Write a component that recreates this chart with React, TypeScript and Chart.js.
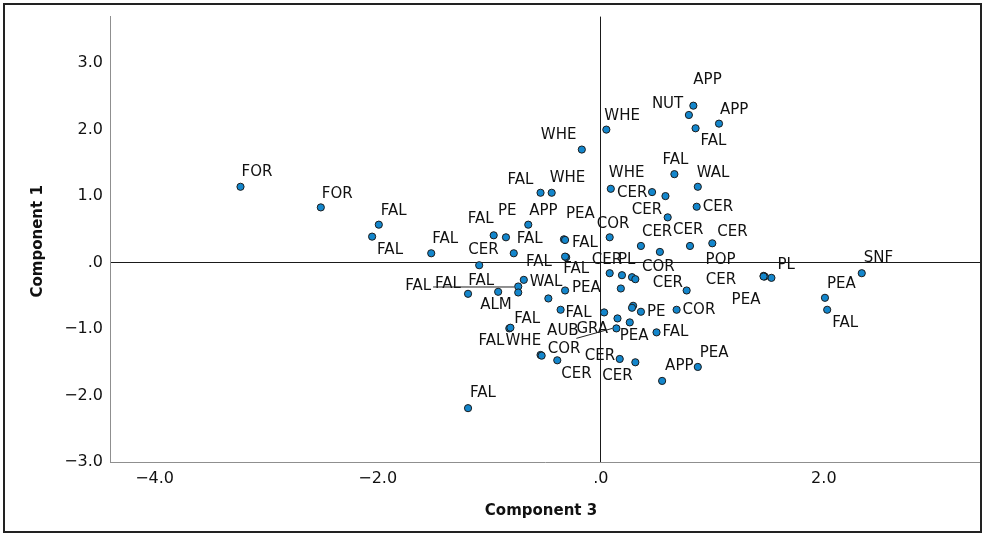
import React, { useEffect, useRef } from "react";
import { Chart, registerables } from "chart.js";

Chart.register(...registerables);

// ---- data ----
const pointNames: string[] = [
  "FOR", "FOR", "FAL", "FAL", "FAL", "FAL", "PE", "APP", "CER", "FAL",
  "FAL", "PEA", "WHE", "FAL", "WHE", "FAL", "FAL", "FAL", "FAL", "FAL",
  "ALM", "WAL", "", "PEA", "FAL", "FAL", "FAL", "WHE", "COR", "CER",
  "AUB", "GRA", "PEA", "", "FAL", "PE", "", "", "COR", "CER",
  "CER", "PEA", "APP", "CER", "CER", "PL", "COR", "", "", "POP",
  "PL", "CER", "PEA", "SNF", "PEA", "FAL", "FAL", "WHE", "APP", "NUT",
  "APP", "FAL", "FAL", "WAL", "WHE", "CER", "", "CER", "CER", "COR",
  "CER", "", "CER", "CER",
];

// Component 3 (horizontal)
const comp3: number[] = [
  -3.23, -2.51, -1.99, -2.05, -1.52, -0.96, -0.85, -0.65, -1.09, -0.78,
  -0.33, -0.32, -0.17, -0.54, -0.44, -0.31, -0.32, -1.19, -0.92, -0.74,
  -0.74, -0.69, -0.47, -0.32, -0.36, -0.82, -0.81, -0.54, -0.53, -0.39,
  0.03, 0.14, 0.26, 0.15, 0.5, 0.36, 0.29, 0.28, 0.68, 0.17,
  0.31, 0.87, 0.55, 0.77, 0.08, 0.19, 0.28, 0.31, 0.18, 1.46,
  1.53, 1.47, 1.46, 2.34, 2.01, 2.03, -1.19, 0.05, 0.83, 0.79,
  1.06, 0.85, 0.66, 0.87, 0.09, 0.46, 0.58, 0.86, 0.6, 0.08,
  0.36, 0.53, 0.8, 1.0,
];

// Component 1 (vertical)
const comp1: number[] = [
  1.14, 0.83, 0.57, 0.39, 0.14, 0.41, 0.38, 0.57, -0.04, 0.14,
  0.35, 0.34, 1.7, 1.05, 1.05, 0.08, 0.09, -0.47, -0.44, -0.36,
  -0.45, -0.26, -0.54, -0.42, -0.71, -0.99, -0.98, -1.39, -1.4, -1.47,
  -0.75, -0.99, -0.9, -0.84, -1.05, -0.74, -0.65, -0.68, -0.71, -1.45,
  -1.5, -1.57, -1.78, -0.42, -0.16, -0.19, -0.22, -0.25, -0.39, -0.2,
  -0.23, -0.21, -0.21, -0.16, -0.53, -0.71, -2.19, 2.0, 2.36, 2.22,
  2.09, 2.02, 1.33, 1.14, 1.11, 1.06, 1.0, 0.84, 0.68, 0.38,
  0.25, 0.16, 0.25, 0.29,
];

const xTicks: number[] = [-4, -2, 0, 2];
const yTicks: number[] = [-3, -2, -1, 0, 1, 2, 3];
const xTitle = "Component 3";
const yTitle = "Component 1";

// ---- label layout (offset of label text from its point, in px) ----
const labelOffsets: [number, number][] = [
  [1, -15], [1, -13], [2, -14], [5, 13], [1, -14], [-26, -16], [-8, -26], [1, -14], [-11, -15], [3, -14],
  [8, 4], [1, -26], [-41, -14], [-33, -13], [-2, -15], [-3, 12], [-39, 6], [-33, -10], [-30, -11], [-113, 0],
  [-38, 13], [6, 2], [0, 0], [7, -2], [5, 3], [5, -9], [-32, 13], [-35, -14], [6, -7], [4, 14],
  [-57, 19], [-40, 1], [-10, 14], [0, 0], [6, 0], [6, 0], [0, 0], [0, 0], [6, 0], [-35, -3],
  [-33, 14], [2, -14], [3, -15], [-34, -7], [-18, -13], [-4, -15], [10, -10], [0, 0], [0, 0], [-58, -16],
  [6, -13], [-59, 4], [-32, 24], [2, -15], [2, -14], [5, 13], [2, -15], [-2, -14], [0, -26], [-37, -11],
  [1, -14], [5, 13], [-12, -14], [-1, -14], [-2, -16], [-35, 1], [0, 0], [6, 0], [-36, -7], [-13, -13],
  [1, -14], [0, 0], [-17, -16], [5, -11],
];
// leader lines: "r" = from right side of label, "lb" = from left-bottom of label
const leaders: Record<number, string> = { 19: "r", 31: "lb" };

const FONT = '"DejaVu Sans", sans-serif';

function fmtTick(v: number): string {
  if (v === 0) return ".0";
  const s = Math.abs(v).toFixed(1);
  return v < 0 ? "\u2212" + s : s;
}

const framePlugin = {
  id: "frameAndTitles",
  beforeDraw(chart: any) {
    const c = chart.ctx;
    c.save();
    c.fillStyle = "#ffffff";
    c.fillRect(0, 0, chart.width, chart.height);
    c.restore();
  },
  afterDraw(chart: any) {
    const c = chart.ctx;
    const a = chart.chartArea;
    c.save();
    c.strokeStyle = "#222";
    c.lineWidth = 2;
    c.strokeRect(4, 4, chart.width - 8, chart.height - 8);
    c.fillStyle = "#111";
    c.font = "bold 15px " + FONT;
    c.textAlign = "center";
    c.textBaseline = "middle";
    c.fillText(xTitle, (a.left + a.right) / 2 - 4, 511);
    c.translate(38, (a.top + a.bottom) / 2 + 2);
    c.rotate(-Math.PI / 2);
    c.fillText(yTitle, 0, 0);
    c.restore();
  },
};

const labelPlugin = {
  id: "pointLabels",
  afterDatasetsDraw(chart: any) {
    const c = chart.ctx;
    const meta = chart.getDatasetMeta(0);
    c.save();
    c.font = "15px " + FONT;
    c.fillStyle = "#111";
    c.strokeStyle = "#222";
    c.lineWidth = 1;
    c.textAlign = "left";
    c.textBaseline = "middle";
    meta.data.forEach((el: any, i: number) => {
      const name = pointNames[i];
      if (!name) return;
      const [dx, dy] = labelOffsets[i] || [2, -14];
      const tx = el.x + dx;
      const ty = el.y + dy;
      c.fillText(name, tx, ty);
      const ld = leaders[i];
      if (ld) {
        const w = c.measureText(name).width;
        c.beginPath();
        if (ld === "r") {
          c.moveTo(tx + w + 2, ty + 0.5);
          c.lineTo(el.x - 4, el.y + 0.5);
        } else {
          c.moveTo(tx, ty + 9);
          c.lineTo(el.x - 4, el.y);
        }
        c.stroke();
      }
    });
    c.restore();
  },
};

export default function App() {
  const ref = useRef<HTMLCanvasElement | null>(null);
  useEffect(() => {
    document.body.style.margin = "0";
    const canvas = ref.current;
    if (!canvas) return;
    const points = comp3.map((x, i) => ({ x, y: comp1[i] }));
    const zeroGrid = (ctx: any) =>
      ctx.tick && ctx.tick.value === 0 ? "#1a1a1a" : "rgba(0,0,0,0)";
    const chart = new Chart(canvas, {
      type: "scatter",
      data: {
        datasets: [
          {
            data: points,
            backgroundColor: "#1386cc",
            borderColor: "#1c1c1c",
            borderWidth: 1,
            pointRadius: 3.6,
            pointHoverRadius: 3.6,
          },
        ],
      },
      options: {
        responsive: false,
        animation: false,
        events: [],
        layout: { padding: { left: 0, right: 5, top: 12, bottom: 0 } },
        plugins: { legend: { display: false }, tooltip: { enabled: false } },
        scales: {
          x: {
            type: "linear",
            min: -4.4,
            max: 3.4,
            afterBuildTicks: (s: any) => {
              s.ticks = xTicks.map((v) => ({ value: v }));
            },
            afterFit: (s: any) => {
              s.height = 74;
            },
            grid: { color: zeroGrid, drawTicks: false, lineWidth: 1 },
            border: { display: true, color: "#8f8f8f", width: 1 },
            ticks: {
              padding: 7,
              color: "#111",
              font: { family: FONT, size: 16 },
              callback: (v: any) => fmtTick(Number(v)),
              maxRotation: 0,
            },
          },
          y: {
            type: "linear",
            min: -3,
            max: 3.7,
            afterBuildTicks: (s: any) => {
              s.ticks = yTicks.map((v) => ({ value: v }));
            },
            afterFit: (s: any) => {
              s.width = 110;
            },
            grid: { color: zeroGrid, drawTicks: false, lineWidth: 1 },
            border: { display: true, color: "#8f8f8f", width: 1 },
            ticks: {
              padding: 7,
              color: "#111",
              font: { family: FONT, size: 16 },
              callback: (v: any) => fmtTick(Number(v)),
            },
          },
        },
      },
      plugins: [framePlugin, labelPlugin],
    });
    return () => chart.destroy();
  }, []);
  return (
    <canvas
      ref={ref}
      width={985}
      height={536}
      style={{ display: "block", width: 985, height: 536 }}
    />
  );
}
